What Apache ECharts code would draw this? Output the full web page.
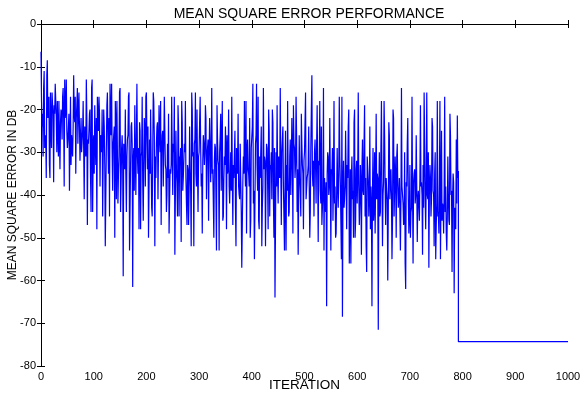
<!DOCTYPE html>
<html>
<head>
<meta charset="utf-8">
<script src="https://cdn.jsdelivr.net/npm/echarts@6/dist/echarts.min.js"></script>
<style>
html,body{margin:0;padding:0;background:#fff;}
#chart{width:583px;height:398px;}
</style>
</head>
<body>
<div id="chart"></div>
<script>
// Noisy MSE (dB) at even iterations 0,2,...,792
var mseEven = [
-6.5,-24,-31,-11,-27,-36,-8.5,-22,-33,-16,-29,-19,-37,-21,-14,-30,-25,-18,-34,-20,
-27,-15,-38,-22,-13,-29,-24,-39,-17,-26,-31,-12,-23,-35,-19,-28,-16,-32,-22,-30,
-18,-41,-24,-13,-47,-28,-21,-36,-15,-44,-26,-19,-33,-48,-22,-17,-38,-27,-20,-31,
-24,-52,-29,-16,-35,-45,-21,-14,-39,-28,-50,-23,-18,-42,-31,-15,-37,-26,-59,-30,
-20,-44,-27,-17,-53,-33,-23,-61.5,-29,-19,-40,-14,-35,-48,-25,-31,-17,-46,-22,-38,
-16,-34,-50,-27,-20,-43,-31,-18,-52,-36,-24,-41,-19,-30,-47,-26,-38,-17,-33,-44,
-28,-21,-49,-35,-17,-40,-30,-54,-25,-37,-19,-45,-32,-51,-23,-36,-28,-18,-42,-33,
-47,-24,-39,-16,-31,-52,-27,-35,-20,-44,-30,-17,-38,-49,-26,-33,-19,-41,-29,-46,
-22,-37,-15,-34,-50,-28,-41,-19,-32,-53,-26,-39,-18,-45,-31,-24,-48,-35,-20,-42,
-30,-17,-47,-36,-25,-52,-33,-21,-40,-28,-44,-57,-31,-18,-38,-49,-27,-35,-22,-46,
-29,-14,-39,-55,-26,-33,-17,-48,-36,-24,-43,-15,-31,-52,-28,-37,-20,-45,-34,-41,
-23,-50,-64,-30,-19,-42,-35,-15,-47,-27,-38,-53,-25,-33,-18,-45,-31,-40,-22,-49,
-28,-36,-17,-44,-54,-26,-39,-21,-33,-48,-30,-16,-41,-35,-24,-50,-29,-12,-38,-45,
-27,-42,-19,-51,-33,-39,-24,-47,-15,-36,-44,-66,-30,-40,-22,-53,-35,-46,-18,-38,
-49,-29,-43,-17,-37,-55,-68.5,-32,-41,-25,-48,-36,-20,-45,-56,-31,-39,-23,-50,-34,
-42,-16,-47,-33,-54,-27,-40,-19,-36,-58,-31,-45,-24,-38,-66,-29,-43,-49,-21,-35,
-71.5,-30,-44,-18,-52,-37,-26,-47,-39,-60,-23,-41,-34,-55,-20,-45,-31,-50,-28,-43,
-36,-53,-15,-40,-47,-30,-62,-38,-22,-49,-33,-44,-17,-56,-35,-42,-26,-51,-39,-46,
-19,-37,-54,-43,-28,-48,-16,-41,-57,-33,-45,-22,-39,-52,-30,-47,-18,-44,-36,-55,
-25,-42,-49,-17,-38,-53,-31,-46,-21,-40,-58,-35,-63,-44,-27,-21.4,-34.4
];
// Noisy MSE (dB) at odd iterations 1,3,...,791
var mseOdd = [
-18,-21,-15,-29,-26,-12,-22,-17,-36,-23, -16,-21,-19,-14,-22,-18,-31,-27,-23,-21,
-17,-22,-13,-20,-25,-27,-21,-28,-33,-26, -24,-21,-17,-22,-15,-20,-24,-27,-30,-25,
-29,-24,-31,-22,-27,-25,-20,-44,-13,-30, -35,-28,-22,-17,-25,-21,-26,-30,-45,-20,
-33,-52,-19,-27,-22,-14,-26,-30,-28,-24, -18,-41,-30,-35,-16,-44,-29,-33,-28,-34,
-35,-31,-26,-16,-53,-24,-28,-32,-39,-30, -27,-31,-29,-23,-48,-30,-37,-33,-25,-17,
-27,-24,-50,-35,-32,-45,-16,-26,-31,-28, -23,-29,-27,-18,-30,-25,-29,-17,-34,-40,
-36,-49,-34,-33,-30,-28,-17,-40,-34,-45, -24,-31,-29,-18,-39,-32,-30,-36,-47,-34,
-39,-34,-52,-20,-30,-28,-16,-38,-34,-31, -23,-29,-35,-32,-28,-30,-22,-31,-27,-30,
-28,-31,-35,-34,-32,-29,-53,-27,-33,-30, -21,-39,-46,-36,-33,-30,-26,-34,-38,-36,
-39,-35,-33,-36,-43,-29,-35,-38,-41,-28, -57,-37,-35,-33,-18,-30,-34,-38,-50,-29,
-24,-42,-55,-28,-14,-39,-46,-31,-36,-52, -38,-34,-32,-35,-29,-48,-25,-33,-30,-20,
-41,-29,-64,-38,-35,-31,-36,-33,-30,-24, -45,-38,-53,-39,-36,-44,-27,-33,-30,-19,
-29,-33,-26,-34,-40,-36,-45,-28,-35,-32, -23,-41,-36,-33,-38,-44,-20,-35,-32,-30,
-33,-28,-35,-32,-18,-42,-47,-39,-53,-41, -37,-35,-31,-38,-36,-34,-29,-37,-42,-50,
-40,-38,-35,-31,-37,-17,-39,-43,-38,-35, -33,-24,-56,-34,-36,-41,-50,-20,-46,-32,
-35,-38,-42,-37,-34,-39,-28,-45,-52,-31, -37,-40,-48,-42,-39,-46,-30,-37,-41,-36,
-39,-45,-29,-37,-40,-18,-38,-36,-41,-44, -26,-37,-40,-46,-22,-39,-36,-31,-38,-40,
-44,-41,-38,-42,-46,-56,-37,-28,-41,-45, -50,-43,-39,-37,-34,-40,-38,-41,-39,-36,
-38,-40,-33,-16,-41,-37,-40,-30,-39,-36, -41,-24,-40,-35,-55,-42,-45,-49,-18,-41,
-46,-43,-39,-44,-49,-45,-40,-47,-26,-39, -41,-37,-43,-48,-42,-36
];
// Converged tail
var tailIter = [792, 1000];
var tailMse = [-74.3, -74.3];

var xTicks = [0,100,200,300,400,500,600,700,800,900,1000];
var yTicks = [0,-10,-20,-30,-40,-50,-60,-70,-80];

var titleText = 'MEAN SQUARE ERROR PERFORMANCE';
var xName = 'ITERATION';
var yName = 'MEAN SQUARE ERROR IN DB';

var data = [];
var lastIter = (mseEven.length - 1) * 2;
for (var it = 0; it <= lastIter; it++) {
  data.push([it, (it % 2 === 0) ? mseEven[it / 2] : mseOdd[(it - 1) / 2]]);
}
for (var j = 0; j < tailIter.length; j++) data.push([tailIter[j], tailMse[j]]);

var FONT = 'Liberation Sans, Arial, sans-serif';
var axisColor = '#000';

var chart = echarts.init(document.getElementById('chart'), null, {renderer: 'canvas'});
var baseX = {
  type: 'value', min: xTicks[0], max: xTicks[xTicks.length - 1], interval: 100,
  axisLine: {show: true, lineStyle: {color: axisColor, width: 1}},
  axisTick: {show: true, inside: true, length: 4, lineStyle: {color: axisColor}},
  splitLine: {show: false}
};
var baseY = {
  type: 'value', min: yTicks[yTicks.length - 1], max: yTicks[0], interval: 10,
  axisLine: {show: true, lineStyle: {color: axisColor, width: 1}},
  axisTick: {show: true, inside: true, length: 4, lineStyle: {color: axisColor}},
  splitLine: {show: false}
};
chart.setOption({
  animation: false,
  backgroundColor: '#fff',
  title: {
    text: titleText, left: 304, top: 2, textAlign: 'center',
    textStyle: {fontFamily: FONT, fontSize: 14, fontWeight: 'normal', color: '#000'}
  },
  grid: {left: 41, right: 15, top: 24, bottom: 32, containLabel: false, outerBoundsMode: 'none'},
  xAxis: [
    Object.assign({}, baseX, {
      position: 'bottom',
      name: xName, nameLocation: 'middle', nameGap: 12, nameMoveOverlap: false,
      nameTextStyle: {fontFamily: FONT, fontSize: 13.5, color: '#000'},
      axisLabel: {show: true, margin: 5, fontFamily: FONT, fontSize: 11, color: '#000',
        formatter: function (v) { return String(v); }}
    }),
    Object.assign({}, baseX, {position: 'top', axisLabel: {show: false}})
  ],
  yAxis: [
    Object.assign({}, baseY, {
      position: 'left',
      name: yName, nameLocation: 'middle', nameGap: 22, nameRotate: 90, nameMoveOverlap: false,
      nameTextStyle: {fontFamily: FONT, fontSize: 12, color: '#000'},
      axisLabel: {show: true, margin: 5, fontFamily: FONT, fontSize: 11, color: '#000'}
    }),
    Object.assign({}, baseY, {position: 'right', axisLabel: {show: false}})
  ],
  series: [{
    type: 'line', data: data, xAxisIndex: 0, yAxisIndex: 0,
    showSymbol: false, symbol: 'none',
    lineStyle: {color: '#0000ff', width: 1.2},
    itemStyle: {color: '#0000ff'}
  }]
});
</script>
</body>
</html>
